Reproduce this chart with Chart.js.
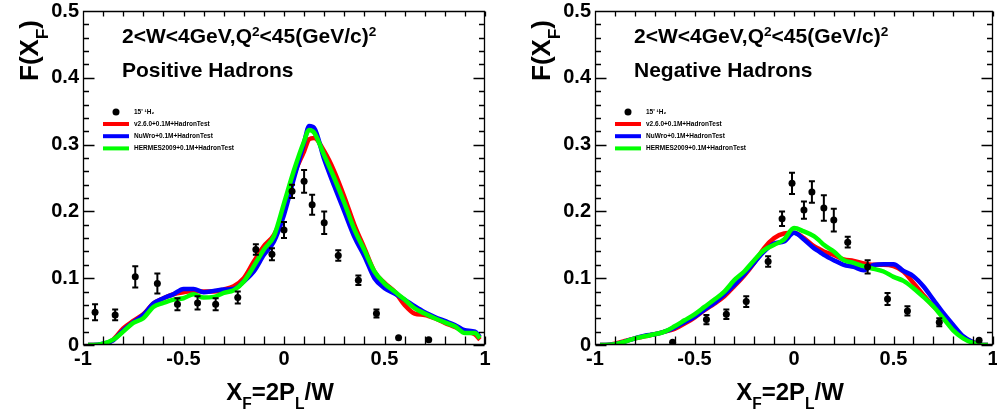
<!DOCTYPE html>
<html>
<head>
<meta charset="utf-8">
<script src="https://cdn.jsdelivr.net/npm/chart.js@4.4.1/dist/chart.umd.min.js"></script>
<style>
  html, body { margin: 0; padding: 0; background: #fff; }
  #wrap { display: flex; width: 997px; height: 414px; }
  canvas { display: block; }
</style>
</head>
<body>
<div id="wrap">
  <canvas id="posChart" width="500" height="414"></canvas>
  <canvas id="negChart" width="497" height="414"></canvas>
</div>
<script>
// x_F sampling grid shared by all simulation curves
const XF_GRID = [-0.975, -0.95, -0.9, -0.85, -0.8, -0.75, -0.7, -0.65, -0.6, -0.55, -0.5, -0.45, -0.4, -0.35, -0.3, -0.25, -0.2, -0.15, -0.1, -0.05, 0, 0.05, 0.1, 0.125, 0.15, 0.2, 0.25, 0.3, 0.35, 0.4, 0.45, 0.5, 0.55, 0.6, 0.65, 0.7, 0.75, 0.8, 0.85, 0.9, 0.95, 0.975];

// positive hadrons
const POS_V260   = [0, 0, 0.001, 0.008, 0.025, 0.036, 0.046, 0.062, 0.07, 0.076, 0.079, 0.081, 0.08, 0.08, 0.083, 0.088, 0.1, 0.125, 0.148, 0.165, 0.2, 0.255, 0.29, 0.308, 0.31, 0.29, 0.26, 0.222, 0.18, 0.145, 0.11, 0.093, 0.08, 0.06, 0.047, 0.045, 0.04, 0.033, 0.027, 0.02, 0.016, 0.008];
const POS_NUWRO  = [0, 0, 0.002, 0.007, 0.022, 0.034, 0.045, 0.062, 0.07, 0.076, 0.084, 0.084, 0.079, 0.081, 0.083, 0.084, 0.095, 0.11, 0.135, 0.155, 0.195, 0.25, 0.303, 0.328, 0.325, 0.278, 0.238, 0.2, 0.162, 0.133, 0.1, 0.085, 0.077, 0.068, 0.058, 0.049, 0.042, 0.036, 0.03, 0.022, 0.02, 0.012];
const POS_HERMES = [0, 0, 0.002, 0.008, 0.02, 0.033, 0.04, 0.057, 0.063, 0.068, 0.07, 0.076, 0.071, 0.072, 0.078, 0.082, 0.095, 0.118, 0.143, 0.163, 0.212, 0.262, 0.305, 0.322, 0.318, 0.284, 0.25, 0.213, 0.173, 0.142, 0.11, 0.092, 0.08, 0.068, 0.055, 0.047, 0.04, 0.034, 0.028, 0.018, 0.018, 0.01];
const POS_DATA_X   = [-0.94, -0.84, -0.74, -0.63, -0.53, -0.43, -0.34, -0.23, -0.14, -0.06, 0.0, 0.04, 0.10, 0.14, 0.20, 0.27, 0.37, 0.46, 0.57, 0.72];
const POS_DATA_Y   = [0.049, 0.045, 0.102, 0.092, 0.061, 0.063, 0.061, 0.071, 0.143, 0.136, 0.172, 0.23, 0.245, 0.21, 0.183, 0.134, 0.097, 0.047, 0.011, 0.008];
const POS_DATA_ERR = [0.012, 0.008, 0.016, 0.015, 0.009, 0.01, 0.009, 0.009, 0.008, 0.009, 0.012, 0.01, 0.017, 0.015, 0.017, 0.008, 0.007, 0.006, 0, 0];

// negative hadrons
const NEG_V260   = [0, 0, 0.002, 0.006, 0.01, 0.013, 0.016, 0.02, 0.024, 0.032, 0.041, 0.052, 0.062, 0.073, 0.088, 0.104, 0.123, 0.145, 0.16, 0.167, 0.168, 0.16, 0.148, 0.144, 0.14, 0.135, 0.128, 0.126, 0.122, 0.12, 0.12, 0.118, 0.11, 0.093, 0.075, 0.058, 0.045, 0.027, 0.012, 0.004, 0, 0];
const NEG_NUWRO  = [0, 0, 0.001, 0.005, 0.01, 0.014, 0.016, 0.02, 0.026, 0.034, 0.042, 0.053, 0.063, 0.076, 0.09, 0.106, 0.123, 0.14, 0.152, 0.155, 0.168, 0.158, 0.145, 0.14, 0.135, 0.127, 0.12, 0.117, 0.112, 0.12, 0.121, 0.121, 0.111, 0.103, 0.088, 0.068, 0.048, 0.03, 0.013, 0.004, 0, 0];
const NEG_HERMES = [0, 0, 0.001, 0.005, 0.01, 0.013, 0.016, 0.02, 0.028, 0.037, 0.046, 0.057, 0.068, 0.08, 0.097, 0.11, 0.127, 0.142, 0.15, 0.158, 0.175, 0.17, 0.163, 0.157, 0.15, 0.14, 0.127, 0.123, 0.118, 0.114, 0.11, 0.102, 0.096, 0.085, 0.072, 0.058, 0.04, 0.022, 0.01, 0.003, 0, 0];
const NEG_DATA_X   = [-0.61, -0.44, -0.34, -0.24, -0.13, -0.06, -0.01, 0.05, 0.09, 0.15, 0.2, 0.27, 0.37, 0.47, 0.57, 0.73, 0.93];
const NEG_DATA_Y   = [0.004, 0.038, 0.046, 0.065, 0.125, 0.189, 0.242, 0.202, 0.229, 0.205, 0.187, 0.154, 0.117, 0.069, 0.051, 0.034, 0.007];
const NEG_DATA_ERR = [0, 0.007, 0.007, 0.008, 0.008, 0.011, 0.016, 0.013, 0.016, 0.019, 0.017, 0.008, 0.01, 0.009, 0.007, 0.006, 0];

const LEGEND_LABELS = ["15' \u00b9H\u2082", "v2.6.0+0.1M+HadronTest", "NuWro+0.1M+HadronTest", "HERMES2009+0.1M+HadronTest"];
const CUTS_TEXT = [["2<W<4GeV,Q", 0], ["2", 1], ["<45(GeV/c)", 0], ["2", 1]];
const Y_TITLE = [["F(X", 0], ["F", -1], [")", 0]];
const X_TITLE = [["X", 0], ["F", -1], ["=2P", 0], ["L", -1], ["/W", 0]];

const FONT = "'Liberation Sans', Arial, Helvetica, sans-serif";
const RED = "#ff0000", BLUE = "#0000ff", GREEN = "#00ff00";

function pairs(xs, ys) {
    return xs.map((x, i) => ({ x: x, y: ys[i] }));
}

// text with sub/superscript runs: shift 1 = sup, -1 = sub
function richText(ctx, x, y, runs, size, center) {
    const w = runs.reduce((acc, r) => {
        ctx.font = "bold " + (r[1] ? size * 0.65 : size) + "px " + FONT;
        return acc + ctx.measureText(r[0]).width;
    }, 0);
    let cx = center ? x - w / 2 : x;
    runs.forEach(r => {
        const s = r[1] ? size * 0.65 : size;
        ctx.font = "bold " + s + "px " + FONT;
        const dy = r[1] === 1 ? -size * 0.33 : r[1] === -1 ? size * 0.38 : 0;
        ctx.fillText(r[0], cx, y + dy);
        cx += ctx.measureText(r[0]).width;
    });
}

const rootFrame = {
    id: "rootFrame",
    afterDatasetsDraw(chart, args, opts) {
        // vertical error bars on the data points
        const ctx = chart.ctx, xs = chart.scales.x, ys = chart.scales.y;
        const pts = chart.data.datasets[0].data;
        ctx.save();
        ctx.strokeStyle = "#000";
        ctx.lineWidth = 2;
        pts.forEach((p, i) => {
            const e = opts.errors[i];
            if (!e) return;
            const px = xs.getPixelForValue(p.x);
            const y1 = ys.getPixelForValue(p.y - e), y2 = ys.getPixelForValue(p.y + e);
            ctx.beginPath();
            ctx.moveTo(px, y1); ctx.lineTo(px, y2);
            ctx.moveTo(px - 3, y1); ctx.lineTo(px + 3, y1);
            ctx.moveTo(px - 3, y2); ctx.lineTo(px + 3, y2);
            ctx.stroke();
        });
        ctx.restore();
    },
    afterDraw(chart, args, opts) {
        const ctx = chart.ctx, a = chart.chartArea;
        const xs = chart.scales.x, ys = chart.scales.y;
        const L = Math.round(a.left) + 0.5, R = Math.round(a.right) - 0.5;
        const T = Math.round(a.top) + 0.5, B = Math.round(a.bottom) - 0.5;
        ctx.save();
        ctx.setLineDash([]);
        ctx.globalAlpha = 1;
        ctx.strokeStyle = "black";
        ctx.lineWidth = 1.3;

        // frame plus inward ticks on all four sides
        ctx.beginPath();
        ctx.moveTo(L, T); ctx.lineTo(R, T); ctx.lineTo(R, B); ctx.lineTo(L, B); ctx.closePath();
        for (let i = 0; i <= 20; i++) {
            const px = Math.round(xs.getPixelForValue(-1 + i * 0.1)) + 0.5;
            ctx.moveTo(px, B); ctx.lineTo(px, B - 8);
            ctx.moveTo(px, T); ctx.lineTo(px, T + 5);
        }
        for (let i = 0; i <= 25; i++) {
            const py = Math.round(ys.getPixelForValue(i * 0.02)) + 0.5;
            const len = i % 5 === 0 ? 11 : 5.5;
            ctx.moveTo(L, py); ctx.lineTo(L + len, py);
            ctx.moveTo(R, py); ctx.lineTo(R - len, py);
        }
        ctx.stroke();

        ctx.fillStyle = "#000";
        ctx.textBaseline = "alphabetic";
        ctx.textAlign = "left";

        // cut and charge labels
        richText(ctx, a.left + 39, a.top + 32, CUTS_TEXT, 21, false);
        ctx.font = "bold 21px " + FONT;
        ctx.fillText(opts.charge, a.left + 39, a.top + 66);

        // axis titles
        richText(ctx, (a.left + a.right) / 2 - 4, a.bottom + 55, X_TITLE, 24, true);
        ctx.save();
        ctx.translate(a.left - 45, a.top + 70);
        ctx.rotate(-Math.PI / 2);
        richText(ctx, 0, 0, Y_TITLE, 26, false);
        ctx.restore();

        // legend
        const lx = a.left + 20, tx = a.left + 51;
        ctx.beginPath();
        ctx.arc(a.left + 33, a.top + 101, 3.5, 0, Math.PI * 2);
        ctx.fill();
        [RED, BLUE, GREEN].forEach((c, i) => {
            const ly = a.top + 113 + i * 12.2;
            ctx.strokeStyle = c;
            ctx.lineWidth = 4;
            ctx.beginPath();
            ctx.moveTo(lx, ly); ctx.lineTo(lx + 26, ly);
            ctx.stroke();
        });
        ctx.font = "bold 6.5px " + FONT;
        ctx.textBaseline = "middle";
        LEGEND_LABELS.forEach((t, i) => {
            ctx.fillText(t, tx, a.top + 101 + i * 12.2);
        });
        ctx.restore();
    }
};

function makePanel(canvasId, curves, dx, dy, derr, charge, axisWidth, padRight) {
    const ctx = document.getElementById(canvasId).getContext("2d");
    const curve = (vals, color) => ({
        data: pairs(XF_GRID, vals),
        showLine: true,
        borderColor: color,
        backgroundColor: color,
        borderWidth: 4.5,
        pointRadius: 0,
        cubicInterpolationMode: "monotone",
        fill: false,
    });
    const tickFont = { family: FONT, size: 20, weight: "bold" };
    return new Chart(ctx, {
        type: "scatter",
        data: {
            datasets: [
                {
                    data: pairs(dx, dy),
                    pointRadius: 3.5,
                    pointBackgroundColor: "#000",
                    pointBorderColor: "#000",
                    pointBorderWidth: 0,
                    showLine: false,
                },
                curve(curves[2], GREEN),
                curve(curves[1], BLUE),
                curve(curves[0], RED),
            ],
        },
        options: {
            responsive: false,
            animation: false,
            devicePixelRatio: 1,
            layout: { padding: { left: 0, top: 11, right: padRight, bottom: 0 } },
            plugins: {
                legend: { display: false },
                tooltip: { enabled: false },
                rootFrame: { errors: derr, charge: charge },
            },
            scales: {
                x: {
                    type: "linear",
                    min: -1,
                    max: 1,
                    grid: { display: false, drawTicks: false },
                    border: { display: false },
                    ticks: {
                        stepSize: 0.5,
                        autoSkip: false,
                        maxRotation: 0,
                        padding: 2,
                        color: "#000",
                        font: tickFont,
                        callback: v => String(Math.round(v * 10) / 10),
                    },
                    afterFit: s => { s.height = 69; s.paddingLeft = 0; s.paddingRight = 0; },
                },
                y: {
                    min: 0,
                    max: 0.5,
                    grid: { display: false, drawTicks: false },
                    border: { display: false },
                    ticks: {
                        stepSize: 0.1,
                        padding: 4,
                        color: "#000",
                        font: tickFont,
                        callback: v => String(Math.round(v * 10) / 10),
                    },
                    afterFit: s => { s.width = axisWidth; s.paddingTop = 0; s.paddingBottom = 0; },
                },
            },
        },
        plugins: [rootFrame],
    });
}

document.addEventListener("DOMContentLoaded", function () {
    makePanel("posChart", [POS_V260, POS_NUWRO, POS_HERMES], POS_DATA_X, POS_DATA_Y, POS_DATA_ERR, "Positive Hadrons", 83, 15);
    makePanel("negChart", [NEG_V260, NEG_NUWRO, NEG_HERMES], NEG_DATA_X, NEG_DATA_Y, NEG_DATA_ERR, "Negative Hadrons", 95, 4);
});
</script>
</body>
</html>
